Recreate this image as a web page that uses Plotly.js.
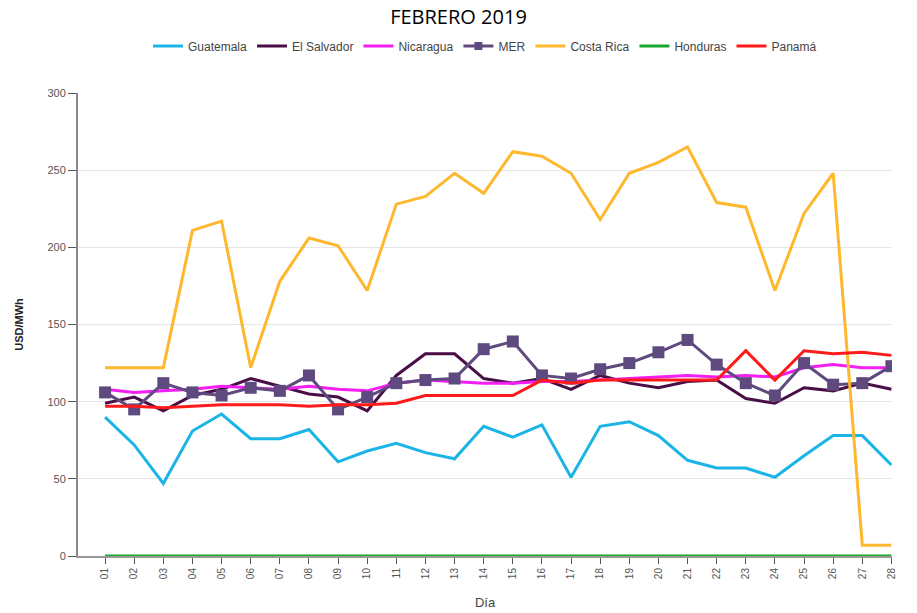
<!DOCTYPE html>
<html>
<head>
<meta charset="utf-8">
<script src="https://cdn.plot.ly/plotly-3.0.1.min.js"></script>
<style>html,body{margin:0;padding:0;background:#fff;}#chart{width:917px;height:613px;}</style>
</head>
<body>
<div id="chart"></div>
<script>
const days = ["01","02","03","04","05","06","07","08","09","10","11","12","13","14","15","16","17","18","19","20","21","22","23","24","25","26","27","28"];
const guatemala = [90,72,47,81,92,76,76,82,61,68,73,67,63,84,77,85,51,84,87,78,62,57,57,51,65,78,78,59];
const elSalvador = [99,103,94,104,108,115,110,105,103,94,117,131,131,115,112,115,108,117,112,109,113,114,102,99,109,107,112,108];
const nicaragua = [108,106,107,108,110,109,108,110,108,107,112,114,113,112,112,113,113,114,115,116,117,116,117,116,122,124,122,122];
const mer = [106,95,112,106,104,109,107,117,95,103,112,114,115,134,139,117,115,121,125,132,140,124,112,104,125,111,112,123];
const costaRica = [122,122,122,211,217,122,178,206,201,172,228,233,248,235,262,259,248,218,248,255,265,229,226,172,222,248,7,7];
const honduras = [0,0,0,0,0,0,0,0,0,0,0,0,0,0,0,0,0,0,0,0,0,0,0,0,0,0,0,0];
const panama = [97,97,96,97,98,98,98,97,98,98,99,104,104,104,104,114,112,114,114,114,114,114,133,114,133,131,132,130];

const names = ["Guatemala","El Salvador","Nicaragua","MER","Costa Rica","Honduras","Panamá"];
const series = [guatemala, elSalvador, nicaragua, mer, costaRica, honduras, panama];
const colors = ["#1ab4e6","#4a0e47","#f21ef2","#5e4a7e","#ffb82e","#16a82a","#ff1a1a"];

const traces = [];
series.forEach((s, i) => {
  const isMer = names[i] === "MER";
  const t = {
    x: days, y: s, name: names[i], type: "scatter",
    mode: isMer ? "lines+markers" : "lines",
    line: {color: colors[i], width: 3},
    legendrank: i + 1
  };
  if (isMer) {
    t.marker = {symbol: "square", size: 12, color: colors[i]};
    t.showlegend = false;
    // legend-only proxy with a smaller symbol
    traces.push({x: [null], y: [null], name: names[i], type: "scatter", mode: "lines+markers",
                 line: {color: colors[i], width: 3}, marker: {symbol: "square", size: 8, color: colors[i]},
                 legendrank: i + 1, hoverinfo: "skip"});
  }
  traces.push(t);
});
const layout = {
  width: 917, height: 613,
  margin: {l: 78, r: 25, t: 93, b: 57},
  paper_bgcolor: "#fff", plot_bgcolor: "#fff",
  title: {text: "FEBRERO 2019", x: 0.5, xanchor: "center", y: 0.972, yanchor: "middle",
          font: {family: "Open Sans, Liberation Sans, sans-serif", size: 20, color: "#000"}},
  showlegend: true,
  legend: {orientation: "h", x: 0.5, xanchor: "center", y: 1.1015, yanchor: "middle",
           font: {family: "Liberation Sans, Arial, sans-serif", size: 12, color: "#444"},
           itemwidth: 30, tracegroupgap: 0},
  xaxis: {
    type: "category", range: [-0.93, 27.02],
    tickangle: -90, ticks: "outside", ticklen: 6, tickcolor: "#555",
    tickfont: {family: "Liberation Sans, Arial, sans-serif", size: 10, color: "#555"},
    showline: true, linecolor: "#999", linewidth: 2, showgrid: false, zeroline: false,
    title: {text: "Día", standoff: 20, font: {family: "Liberation Sans, Arial, sans-serif", size: 13, color: "#444"}}
  },
  yaxis: {
    range: [0, 300], dtick: 50, ticks: "outside", ticklen: 8, tickcolor: "#555",
    tickfont: {family: "Liberation Sans, Arial, sans-serif", size: 11, color: "#555"},
    showline: true, linecolor: "#888", linewidth: 2, showgrid: true, gridcolor: "#e6e6e6", gridwidth: 1,
    zeroline: false,
    title: {text: "<b>USD/MWh</b>", standoff: 22, font: {family: "Liberation Sans, Arial, sans-serif", size: 11, color: "#222"}}
  }
};
Plotly.newPlot("chart", traces, layout, {displayModeBar: false, responsive: false});
</script>
</body>
</html>
